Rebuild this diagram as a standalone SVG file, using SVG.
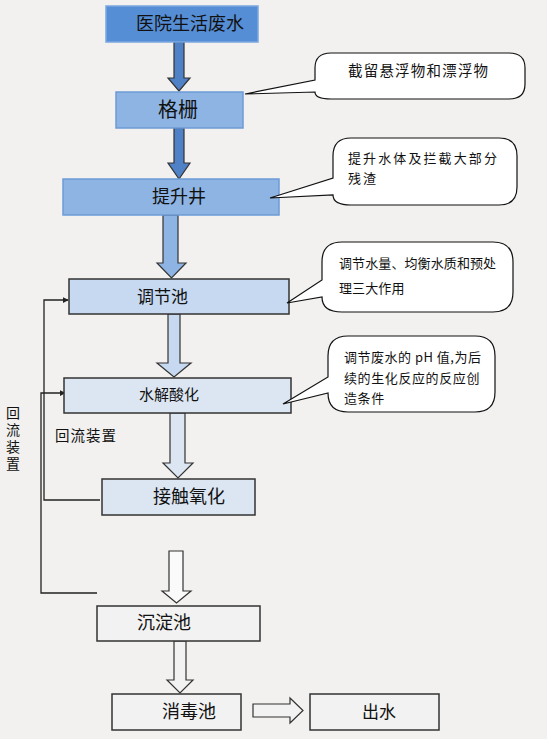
<svg xmlns="http://www.w3.org/2000/svg" width="547" height="739" viewBox="0 0 547 739">
<defs>
<style>
.t{font-family:"Noto Sans CJK SC","Noto Sans",sans-serif;fill:#111;}
.box{stroke-width:1.5;}
.call{fill:#fff;stroke:#111;stroke-width:1.2;}
.ar{stroke:#333;stroke-width:1.2;stroke-linejoin:miter;}
.fb{fill:none;stroke:#222;stroke-width:1.3;}
</style>
<marker id="ah" viewBox="0 0 8 8" refX="7" refY="4" markerWidth="6" markerHeight="6" orient="auto" markerUnits="userSpaceOnUse">
<path d="M0,0 L8,4 L0,8 Z" fill="#222"/>
</marker>
</defs>
<rect x="0" y="0" width="547" height="739" fill="#f2f1ef"/>

<g id="connectors">
<polygon class="ar" fill="#4f81c7" points="174,42 184,42 184,78 190,78 179,91 168,78 174,78"/>
<polygon class="ar" fill="#4f81c7" points="174,128 184,128 184,163 190,163 179,179 168,163 174,163"/>
<polygon class="ar" fill="#8eb4e3" points="163,215 178,215 178,263 186,263 171.5,278 157,263 163,263"/>
<polygon class="ar" fill="#c6d9f1" points="168,314 180,314 180,363 191,363 174,377 157,363 168,363"/>
<polygon class="ar" fill="#dce6f2" points="170,413 185,413 185,463 193,463 178,478 163,463 170,463"/>
<polygon class="ar" fill="#fafafa" points="169,551 183,551 183,591 191,591 176.5,603 162,591 169,591"/>
<polygon class="ar" fill="#f2f2f2" points="174,641 186,641 186,680 193,680 180,693 167,680 174,680"/>
<polygon class="ar" fill="#f2f2f2" points="253,704 290,704 290,698 303,710.5 290,723 290,717 253,717"/>
<path class="fb" d="M100,500 H44 V300 H68" marker-end="url(#ah)"/>
<path class="fb" d="M97,593 H41 V393 H65" marker-end="url(#ah)"/>
</g>

<g id="n1"><rect class="box" x="106" y="6" width="152" height="36" fill="#558ed5" stroke="#7aa7e0"/>
<text class="t" x="136" y="30" font-size="18">医院生活废水</text></g>

<g id="n2"><rect class="box" x="116" y="92" width="127" height="36" fill="#8eb4e3" stroke="#6d9bd6"/>
<text class="t" x="178" y="117" font-size="20" text-anchor="middle">格栅</text></g>

<g id="n3"><rect class="box" x="63" y="179" width="216" height="36" fill="#8eb4e3" stroke="#6d9bd6"/>
<text class="t" x="179" y="203" font-size="18" text-anchor="middle">提升井</text></g>

<g id="n4"><rect class="box" x="69" y="279" width="220" height="35" fill="#c6d9f1" stroke="#333"/>
<text class="t" x="137" y="303" font-size="17">调节池</text></g>

<g id="n5"><rect class="box" x="64" y="378" width="227" height="35" fill="#dce6f2" stroke="#333"/>
<text class="t" x="139" y="400" font-size="15">水解酸化</text></g>

<g id="n6"><rect class="box" x="102" y="479" width="153" height="36" fill="#dce6f2" stroke="#333"/>
<text class="t" x="153" y="503" font-size="18">接触氧化</text></g>

<g id="n7"><rect class="box" x="97" y="606" width="163" height="35" fill="#f2f2f2" stroke="#333"/>
<text class="t" x="137" y="629" font-size="18">沉淀池</text></g>

<g id="n8"><rect class="box" x="112" y="694" width="129" height="36" fill="#f2f2f2" stroke="#333"/>
<text class="t" x="162" y="718" font-size="18">消毒池</text></g>

<g id="n9"><rect class="box" x="310" y="694" width="129" height="36" fill="#f2f2f2" stroke="#333"/>
<text class="t" x="362" y="718" font-size="17">出水</text></g>

<g id="c1"><path class="call" d="M331,53 H509 Q525,53 525,68 V84 Q525,99 509,99 H331 Q315,99 315,92 L245,94 L315,80 V68 Q315,53 331,53 Z"/>
<text class="t" x="348" y="76" font-size="14.5" letter-spacing="1.2">截留悬浮物和漂浮物</text></g>

<g id="c2"><path class="call" d="M351,138 H499 Q517,138 517,156 V187 Q517,205 499,205 H351 Q333,205 333,195 L270,198 L333,178 V156 Q333,138 351,138 Z"/>
<text class="t" x="348" y="163" font-size="13" letter-spacing="2.1">提升水体及拦截大部分</text>
<text class="t" x="348" y="183" font-size="13" letter-spacing="2.1">残渣</text></g>

<g id="c3"><path class="call" d="M342,242 H493 Q513,242 513,262 V292 Q513,312 493,312 H342 Q322,312 322,297 L287,303 L322,280 V262 Q322,242 342,242 Z"/>
<text class="t" x="339" y="268" font-size="13" letter-spacing="0.1">调节水量、均衡水质和预处</text>
<text class="t" x="339" y="293" font-size="13" letter-spacing="0.1">理三大作用</text></g>

<g id="c4"><path class="call" d="M348,336 H475 Q495,336 495,356 V392 Q495,412 475,412 H348 Q328,412 328,393 L283,404 L328,377 V356 Q328,336 348,336 Z"/>
<text class="t" x="344" y="362" font-size="13" letter-spacing="0.5">调节废水的 pH 值,为后</text>
<text class="t" x="344" y="383" font-size="13" letter-spacing="0.6">续的生化反应的反应创</text>
<text class="t" x="344" y="403" font-size="13" letter-spacing="0.6">造条件</text></g>

<g id="label-side">
<text class="t" x="13" y="406" font-size="14" writing-mode="vertical-rl" letter-spacing="3">回流装置</text>
</g>
<g id="label-mid"><text class="t" x="55" y="441" font-size="14.5" letter-spacing="1">回流装置</text></g>
</svg>
